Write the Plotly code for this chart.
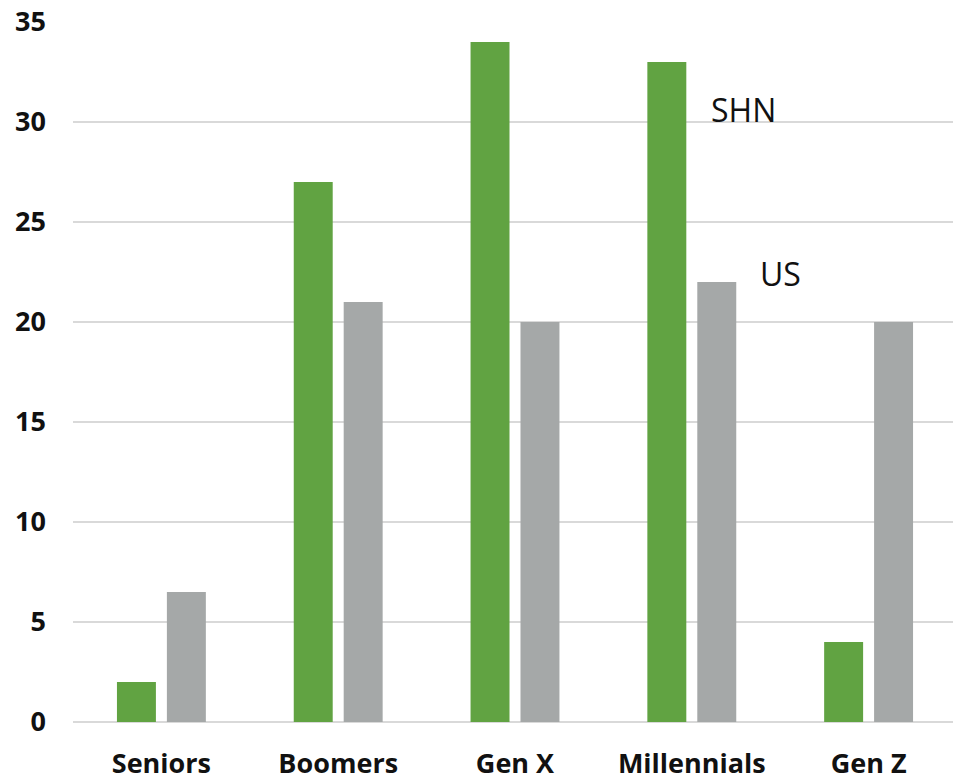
import plotly.graph_objects as go

categories = ["Seniors", "Boomers", "Gen X", "Millennials", "Gen Z"]
shn_values = [2, 27, 34, 33, 4]
us_values = [6.5, 21, 20, 22, 20]
y_ticks = [0, 5, 10, 15, 20, 25, 30, 35]

fig = go.Figure()
fig.add_trace(go.Bar(x=categories, y=shn_values, name="SHN", marker_color="#61a342", marker_line_width=0))
fig.add_trace(go.Bar(x=categories, y=us_values, name="US", marker_color="#a5a8a8", marker_line_width=0))

fig.add_annotation(x=3.29, y=30.65, text="SHN", showarrow=False, xref="x", yref="y",
                   font=dict(family="Open Sans", size=32, color="#111111"))
fig.add_annotation(x=3.50, y=22.45, text="US", showarrow=False, xref="x", yref="y",
                   font=dict(family="Open Sans", size=32, color="#111111"))

# page body has an 8px default margin, so the figure is sized to fit inside the window
fig.update_layout(
    width=953, height=767,
    margin=dict(l=64.5, r=3.5, t=14, b=53),
    plot_bgcolor="white", paper_bgcolor="white",
    barmode="group", bargap=0.435, bargroupgap=0.22,
    showlegend=False,
    font=dict(family="Open Sans", color="#111111"),
)
fig.update_yaxes(range=[0, 35], tickvals=y_ticks, showgrid=True, gridcolor="#d9d9d9", gridwidth=2,
                 zeroline=True, zerolinecolor="#d9d9d9", zerolinewidth=2,
                 tickfont=dict(family="Open Sans", size=27, weight="bold", color="#111111"),
                 ticklabelstandoff=26, ticklabeloverflow="allow", showline=False, automargin=False)
fig.update_xaxes(showgrid=False, showline=False, automargin=False,
                 tickfont=dict(family="Open Sans", size=27, weight="bold", color="#111111"),
                 ticklabelstandoff=23, ticklabeloverflow="allow")

fig.write_html("out.html")
